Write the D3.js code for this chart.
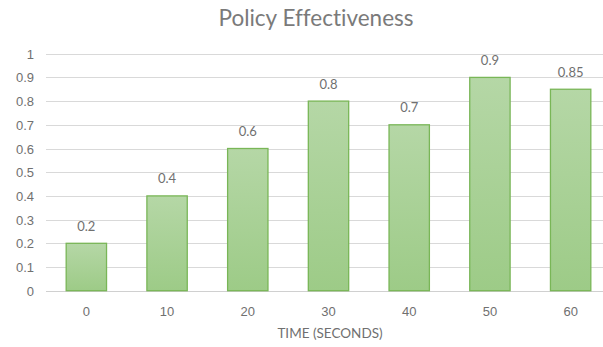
<!DOCTYPE html>
<html>
<head>
<meta charset="utf-8">
<script src="https://cdn.jsdelivr.net/npm/d3@7"></script>
<style>
  html, body { margin: 0; padding: 0; background: #fff; }
  svg { display: block; font-family: Lato, "Open Sans", sans-serif; font-variant-ligatures: none; }
</style>
</head>
<body>
<svg id="chart" width="603" height="347"></svg>
<script>
// Policy effectiveness measured at each time step
const categories = ["0", "10", "20", "30", "40", "50", "60"];
const values = [0.2, 0.4, 0.6, 0.8, 0.7, 0.9, 0.85];
const yTicks = [0, 0.1, 0.2, 0.3, 0.4, 0.5, 0.6, 0.7, 0.8, 0.9, 1];
const title = "Policy Effectiveness";
const xTitle = "TIME (SECONDS)";

const svg = d3.select("#chart");
const W = 603, H = 347;
const plotLeft = 46, plotRight = 611, plotTop = 53.7, plotBottom = 290.7;
const textColor = "#707070";

const x = d3.scaleBand().domain(categories).range([plotLeft, plotRight]).paddingInner(0.5).paddingOuter(0.25);
const y = d3.scaleLinear().domain([0, 1]).range([plotBottom, plotTop]);

// gradient fill for bars
const defs = svg.append("defs");
const grad = defs.append("linearGradient").attr("id", "barGrad")
  .attr("x1", 0).attr("y1", 0).attr("x2", 0).attr("y2", 1);
grad.append("stop").attr("offset", "0%").attr("stop-color", "#b5d7a6");
grad.append("stop").attr("offset", "100%").attr("stop-color", "#9dcb87");

// gridlines
svg.append("g").selectAll("line").data(yTicks).join("line")
  .attr("x1", plotLeft).attr("x2", W)
  .attr("y1", d => Math.round(y(d)) + 0.5).attr("y2", d => Math.round(y(d)) + 0.5)
  .attr("stroke", d => d === 0 ? "#d0d0d0" : "#d9d9d9").attr("stroke-width", 1);

// y axis labels
const yAxis = d3.axisLeft(y).tickValues(yTicks).tickSize(0).tickPadding(0)
  .tickFormat(d => String(+d.toFixed(1)));
const gy = svg.append("g").attr("transform", `translate(${plotLeft - 12},0)`).call(yAxis);
gy.select(".domain").remove();
gy.selectAll("text").attr("fill", textColor).attr("font-size", 13).attr("dy", "0.35em");

// x axis labels
const xAxis = d3.axisBottom(x).tickSize(0).tickPadding(0);
const gx = svg.append("g").attr("transform", `translate(0,${plotBottom})`).call(xAxis);
gx.select(".domain").remove();
gx.selectAll("text").attr("fill", textColor).attr("font-size", 13).attr("y", 21).attr("dy", "0.35em");

// bars
svg.append("g").selectAll("rect").data(values).join("rect")
  .attr("x", (d, i) => x(categories[i]))
  .attr("y", d => y(d))
  .attr("width", x.bandwidth())
  .attr("height", d => y(0) - y(d))
  .attr("fill", "url(#barGrad)")
  .attr("stroke", "#79b657").attr("stroke-width", 1.3);

// value labels
svg.append("g").selectAll("text").data(values).join("text")
  .attr("x", (d, i) => x(categories[i]) + x.bandwidth() / 2)
  .attr("y", d => y(d) - 17)
  .attr("dy", "0.35em")
  .attr("text-anchor", "middle")
  .attr("fill", textColor).attr("font-size", 13)
  .text(d => String(d));

// title
svg.append("text").attr("x", 316).attr("y", 18).attr("dy", "0.35em")
  .attr("text-anchor", "middle").attr("fill", "#7a7a7a").attr("font-size", 22.5)
  .text(title);

// x axis title
svg.append("text").attr("x", 330).attr("y", 333).attr("dy", "0.35em")
  .attr("text-anchor", "middle").attr("fill", textColor).attr("font-size", 13.5)
  .text(xTitle);
</script>
</body>
</html>
